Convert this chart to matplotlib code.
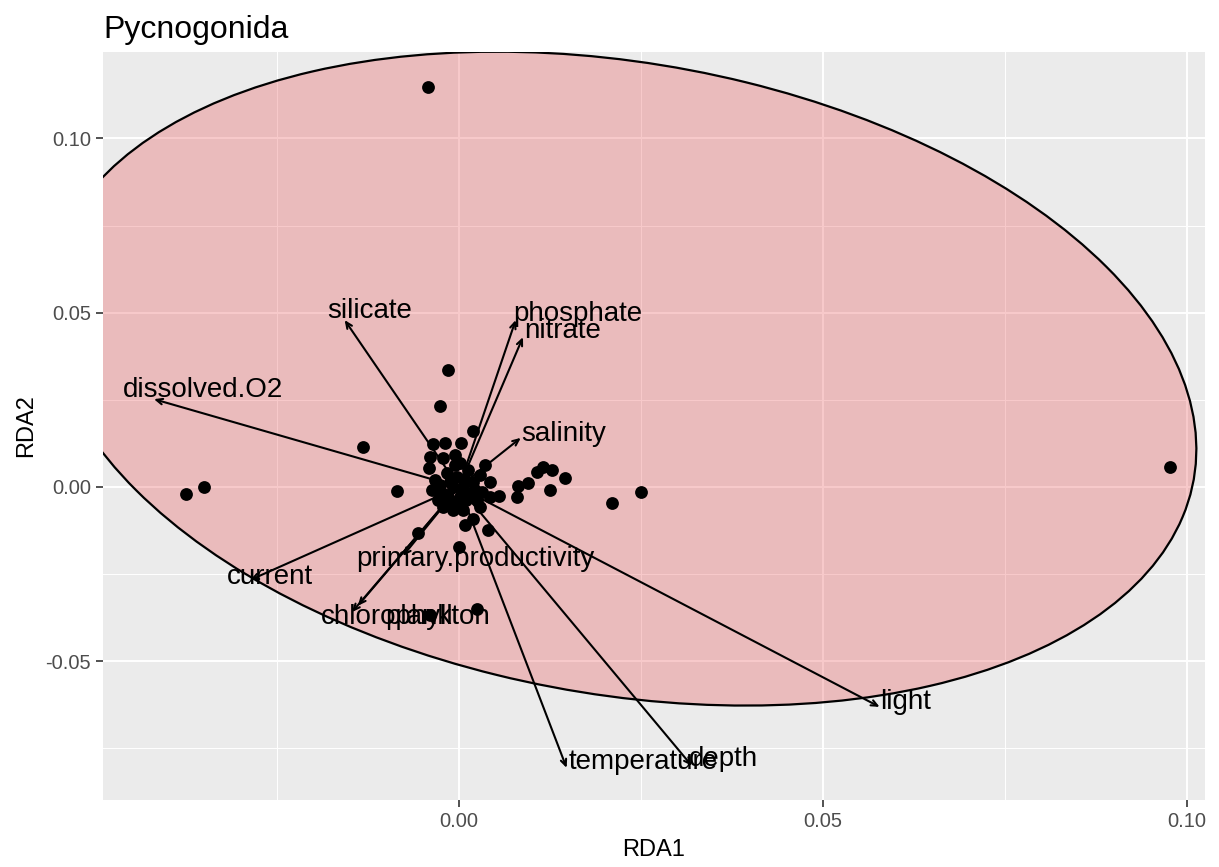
import matplotlib
matplotlib.use("Agg")
import matplotlib.pyplot as plt
from matplotlib.patches import Ellipse

plt.rcParams["font.family"] = ["Liberation Sans", "DejaVu Sans"]

# site scores
site_x = [
    -0.0043, 0.0977, -0.0375, -0.0350, -0.0132, -0.0085, -0.0015, -0.0026, 0.0019, 0.0210, 0.0250,
    0.0036, 0.0043, 0.0055, 0.0080, 0.0081, 0.0095, 0.0107, 0.0115, 0.0128, 0.0146, 0.0125,
    -0.0056, 0.0008, 0.0019, 0.0040, 0.0000, -0.0040, 0.0025, 0.0005,
    -0.0036, -0.0019, 0.0003, -0.0040, -0.0022, 0.0001, -0.0041, -0.0033, -0.0037, -0.0023,
    -0.0016, -0.0003, 0.0008, 0.0019, 0.0029, 0.0032, 0.0025, 0.0043, -0.0022, -0.0008,
    0.0029, -0.0012, 0.0001, -0.0026, -0.0008, 0.0005, -0.0005, -0.0012, 0.0012, 0.0015,
    -0.0001, -0.0016, -0.0029, 0.0010, 0.0022, -0.0005,
]
site_y = [
    0.1148, 0.0057, -0.0020, 0.0000, 0.0115, -0.0011, 0.0336, 0.0232, 0.0161, -0.0046, -0.0014,
    0.0063, 0.0014, -0.0026, -0.0029, 0.0003, 0.0011, 0.0043, 0.0057, 0.0049, 0.0026, -0.0009,
    -0.0132, -0.0109, -0.0092, -0.0123, -0.0172, -0.0367, -0.0350, -0.0066,
    0.0123, 0.0126, 0.0126, 0.0086, 0.0083, 0.0069, 0.0055, 0.0020, -0.0009, -0.0017,
    0.0040, 0.0029, 0.0020, 0.0014, 0.0034, -0.0014, -0.0037, -0.0029, -0.0057, -0.0066,
    -0.0057, -0.0037, -0.0029, 0.0006, 0.0000, -0.0003, 0.0063, 0.0014, 0.0049, -0.0017,
    -0.0046, -0.0023, -0.0037, -0.0037, -0.0009, 0.0092,
]

# environmental vectors (arrow tips) and where their names sit
env_names = ["dissolved.O2", "silicate", "phosphate", "nitrate", "salinity", "current",
             "primary.productivity", "chlorophyll", "plankton", "light", "temperature", "depth"]
env_x = [-0.0419, -0.0157, 0.0078, 0.0088, 0.0085, -0.0287, -0.0077, -0.0147, -0.0139, 0.0578, 0.0148, 0.0320]
env_y = [0.0252, 0.0479, 0.0479, 0.0430, 0.0141, -0.0267, -0.0198, -0.0359, -0.0341, -0.0631, -0.0806, -0.0800]
lab_x = [-0.0352, -0.0122, 0.0163, 0.0142, 0.0144, -0.0260, 0.0023, -0.0098, -0.0029, 0.0613, 0.0253, 0.0363]
lab_y = [0.0278, 0.0505, 0.0496, 0.0448, 0.0152, -0.0258, -0.0207, -0.0373, -0.0373, -0.0617, -0.0789, -0.0780]

# group ellipse
ell_center = (0.02232, 0.03109)
ell_width = 0.19564
ell_height = 0.14792
ell_angle = -64.317

fig = plt.figure(figsize=(12.19, 8.67), dpi=100)
ax = fig.add_axes([0.0845, 0.0773, 0.904, 0.8627])
ax.set_facecolor("#EBEBEB")
ax.set_xlim(-0.0489, 0.1025)
ax.set_ylim(-0.0898, 0.1248)
ax.set_xticks([0.0, 0.05, 0.10])
ax.set_xticklabels(["0.00", "0.05", "0.10"])
ax.set_yticks([-0.05, 0.0, 0.05, 0.10])
ax.set_yticklabels(["-0.05", "0.00", "0.05", "0.10"])
ax.set_xticks([-0.025, 0.025, 0.075], minor=True)
ax.set_yticks([-0.075, -0.025, 0.025, 0.075], minor=True)
ax.grid(which="major", color="white", lw=1.4)
ax.grid(which="minor", color="white", lw=0.7)
ax.set_axisbelow(True)
for sp in ax.spines.values():
    sp.set_visible(False)
ax.tick_params(which="major", length=5, width=1.2, color="#333333", labelcolor="#4D4D4D", labelsize=14.5)
ax.tick_params(which="minor", length=0)

ax.scatter(site_x, site_y, s=85, color="black", zorder=3, linewidths=0)

ax.add_patch(Ellipse(ell_center, ell_width, ell_height, angle=ell_angle,
                     facecolor=(0.91, 0.31, 0.32, 0.3), edgecolor="black", lw=1.6, zorder=2))

for name, ex, ey, tx, ty in zip(env_names, env_x, env_y, lab_x, lab_y):
    ax.annotate("", xy=(ex, ey), xytext=(0, 0),
                arrowprops=dict(arrowstyle="->,head_length=0.45,head_width=0.2", lw=1.5,
                                color="black", shrinkA=0, shrinkB=0), zorder=4)
    ax.text(tx, ty, name, ha="center", va="center", fontsize=20, color="black", zorder=5)

ax.set_xlabel("RDA1", fontsize=17, labelpad=6)
ax.set_ylabel("RDA2", fontsize=17, labelpad=6)
ax.set_title("Pycnogonida", loc="left", fontsize=23, pad=10)

fig.savefig("out.png", dpi=100)
